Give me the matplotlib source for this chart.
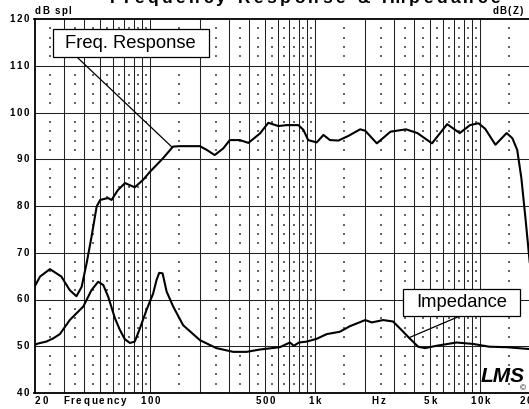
import matplotlib
matplotlib.use("Agg")
import matplotlib.pyplot as plt
from matplotlib.patches import Rectangle
import numpy as np

plt.rcParams['font.family'] = ['Liberation Sans', 'DejaVu Sans']

# frequency response (dB spl)
fr_freq = [20, 21.6, 24.8, 29.1, 32.7, 35.9, 38.6, 41.4, 44.3, 47.6, 50, 55.7, 58.6, 64, 70.7,
           81, 91, 100, 120, 138, 152, 175, 201, 221, 247, 278, 305, 351, 395, 464, 522, 600,
           673, 793, 851, 910, 1025, 1126, 1233, 1387, 1596, 1878, 2017, 2371, 2870, 3561,
           4175, 5117, 6323, 7536, 8700, 9787, 10756, 12397, 14500, 15700, 16800, 17800,
           18900, 20000]
fr_db = [62.7, 64.9, 66.5, 64.9, 62, 60.7, 62.7, 67.8, 73.4, 79.9, 81.3, 81.7, 81.3, 83.4, 84.9,
         84, 85.6, 87.3, 90.2, 92.7, 92.8, 92.8, 92.8, 92, 90.9, 92.3, 94.1, 94.1, 93.5, 95.5,
         97.8, 97.1, 97.3, 97.3, 96.3, 94.1, 93.6, 95.2, 94.1, 94, 95, 96.4, 96.1, 93.4, 95.9,
         96.4, 95.6, 93.4, 97.5, 95.6, 97.3, 97.7, 96.5, 93.1, 95.6, 94.5, 92, 86, 77, 68]

# impedance (dB(Z))
imp_freq = [20, 21.1, 23.6, 26, 28.5, 32.7, 39.5, 44.3, 48.6, 52.2, 55.9, 61.4, 65.8, 70.5,
            75.7, 81, 87, 95.5, 104.7, 109.8, 113.9, 119.4, 126.3, 138.4, 159, 201, 253, 320,
            385, 464, 613, 705, 745, 800, 893, 1025, 1180, 1416, 1630, 2017, 2210, 2590, 2970,
            3340, 3740, 4220, 4640, 5450, 7200, 9060, 11390, 14450, 20000]
imp_db = [50.3, 50.6, 51, 51.7, 52.6, 55.6, 58.5, 62, 63.8, 63.1, 60.6, 56, 53.5, 51.5,
          50.7, 51, 53.8, 57.8, 61.3, 64.2, 65.7, 65.6, 61.7, 58.5, 54.5, 51.3, 49.6, 48.8,
          48.8, 49.3, 49.8, 50.8, 50.1, 50.8, 51, 51.6, 52.6, 53.1, 54.3, 55.6, 55.1, 55.6, 55.3,
          53.5, 51.7, 49.9, 49.6, 50.1, 50.8, 50.5, 49.9, 49.8, 49.4]

y_ticks = [40, 50, 60, 70, 80, 90, 100, 110, 120]
x_labels = [(100, '100'), (500, '500'), (1000, '1k'), (5000, '5k'), (10000, '10k'), (20000, '20k')]

W, H = 529, 409
fig = plt.figure(figsize=(W / 100, H / 100), dpi=100)
ax = fig.add_axes([34.5 / W, 16 / H, (529.7 - 34.5) / W, 374 / H])
ax.set_xscale('log')
ax.set_xlim(20, 20000)
ax.set_ylim(40, 120)
ax.set_xticks([])
ax.set_yticks([])
ax.minorticks_off()
for s in ['left', 'bottom', 'top']:
    ax.spines[s].set_linewidth(1.3)
ax.spines['right'].set_visible(False)


def px2data(x, y):
    return 100 * 10 ** ((x - 150) / 165), 120 - (y - 19) / 4.675


# grid
decades = [10, 100, 1000, 10000]
for d in decades:
    for m in range(1, 10):
        f = d * m
        if 20 < f < 20000:
            ax.axvline(f, color='#222222', lw=0.75, zorder=1)
for v in range(50, 120, 10):
    ax.axhline(v, color='#222222', lw=0.75, zorder=1)

mid_f = [d * (m + 0.5) for d in decades for m in range(1, 10) if 20 < d * (m + 0.5) < 20000]
mid_db = [v for v in range(42, 120, 2) if v % 10]
mx, my = np.meshgrid(mid_f, mid_db)
ax.scatter(mx.ravel(), my.ravel(), s=0.9, marker='s', c='#666666', linewidths=0, zorder=1)

ax.plot(fr_freq, fr_db, color='black', lw=1.5, zorder=3, solid_joinstyle='round')
ax.plot(imp_freq, imp_db, color='black', lw=1.5, zorder=3, solid_joinstyle='round')


# callouts
def callout(label, box, p0, p1):
    (x0, y0), (x1, y1) = box
    a = px2data(x0, y1)
    b = px2data(x1, y0)
    ax.add_patch(Rectangle(a, b[0] - a[0], b[1] - a[1], facecolor='white', edgecolor='black',
                           lw=0.9, zorder=5, clip_on=False))
    c = px2data((x0 + x1) / 2, (y0 + y1) / 2)
    ax.text(c[0], c[1], label, fontsize=13.2, ha='center', va='center', zorder=6, clip_on=False)
    q0 = px2data(*p0)
    q1 = px2data(*p1)
    ax.plot([q0[0], q1[0]], [q0[1], q1[1]], color='black', lw=0.9, zorder=4)


callout('Freq. Response', ((52.7, 29.3), (209.3, 56.7)), (76.7, 56.7), (171.7, 146.7))
callout('Impedance', ((403.3, 289), (520, 316)), (460, 316), (410, 337.3))

renderer = fig.canvas.get_renderer()


def spaced(x, y, s, size=7, gap=1.7, ha='left', weight='bold', va='center'):
    arts, widths = [], []
    for ch in s:
        t = fig.text(0, 0, ch, fontsize=size, fontweight=weight, ha='left', va=va)
        w = t.get_window_extent(renderer).width
        if ch == ' ':
            w = size * 0.278 * 100 / 72
        arts.append(t)
        widths.append(w)
    total = sum(widths) + gap * (len(s) - 1)
    if ha == 'center':
        x -= total / 2
    elif ha == 'right':
        x -= total
    for t, w in zip(arts, widths):
        t.set_position((x / W, 1 - y / H))
        x += w + gap


for v in y_ticks:
    spaced(29, 19 + (120 - v) * 4.675, str(v), ha='right')
spaced(35, 401, '20')
spaced(63, 401, 'Frequency')
spaced(378.5, 401, 'Hz', ha='center')
for f, lab in x_labels:
    spaced(150 + 165 * np.log10(f / 100), 401, lab, ha='center')
spaced(35, 11, 'dB spl', gap=1.3)
spaced(523, 11, 'dB(Z)', gap=1.3, ha='right')

# title mostly cut off at the top edge, as in the reference
spaced(305, 3, 'Frequency Response & Impedance', size=12.5, gap=3.5, ha='center', va='baseline')

fig.text(503 / W, 1 - 376 / H, 'LMS', fontsize=15, fontstyle='italic', fontweight='bold',
         ha='center', va='center')
fig.text(523 / W, 1 - 389 / H, '\u00a9', fontsize=6, ha='center', va='center')

fig.savefig('out.png', dpi=100)
